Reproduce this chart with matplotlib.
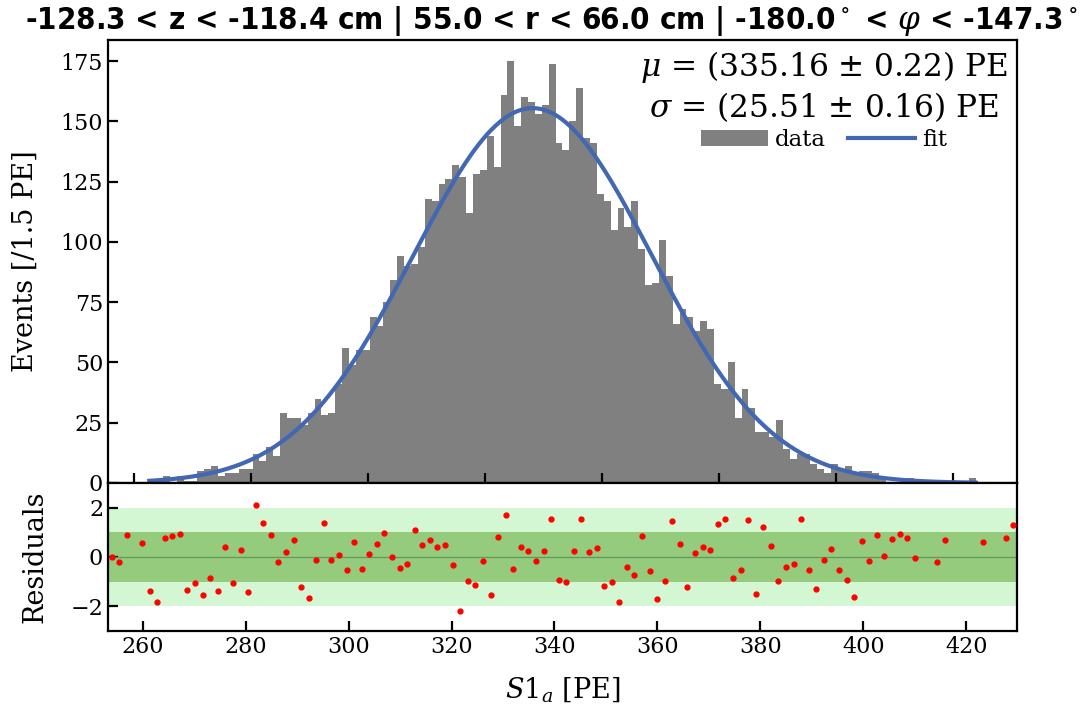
import numpy as np
import matplotlib
matplotlib.use('Agg')
import matplotlib.pyplot as plt

plt.rcParams['font.family'] = 'DejaVu Serif'
plt.rcParams['mathtext.fontset'] = 'dejavuserif'

# S1a spectrum: 120 bins between min and max of the sample
s1_min, s1_max = 253.26, 429.85
counts = [1, 1, 3, 0, 3, 1, 1, 5, 6, 7,
          3, 4, 4, 6, 6, 12, 9, 15, 11, 29,
          27, 27, 24, 29, 35, 28, 29, 41, 56, 49,
          55, 55, 69, 65, 75, 84, 94, 90, 91, 98,
          118, 117, 124, 126, 132, 127, 112, 128, 130, 144,
          131, 161, 175, 148, 160, 158, 153, 157, 174, 141,
          138, 150, 164, 143, 141, 120, 117, 105, 114, 106,
          117, 97, 82, 83, 101, 86, 66, 72, 69, 63,
          67, 64, 41, 39, 50, 27, 39, 31, 21, 21,
          19, 26, 14, 10, 12, 12, 8, 6, 4, 8,
          5, 7, 4, 5, 5, 4, 2, 0, 0, 1,
          2, 0, 0, 0, 0, 1, 0, 0, 1, 2]

nan = np.nan
resid = [0.00, -0.19, 0.91, nan, 0.57, -1.39, -1.82, 0.76, 0.87, 0.94,
         -1.32, -1.06, -1.54, -0.87, -1.37, 0.39, -1.07, 0.29, -1.43, 2.11,
         1.36, 0.88, -0.22, 0.20, 0.67, -1.21, -1.67, -0.11, 1.37, -0.14,
         0.07, -0.54, 0.61, -0.48, 0.12, 0.53, 0.98, 0.01, -0.46, -0.29,
         1.09, 0.50, 0.67, 0.41, 0.49, -0.34, -2.19, -0.98, -1.12, -0.15,
         -1.54, 0.80, 1.70, -0.49, 0.41, 0.23, -0.15, 0.23, 1.54, -0.94,
         -1.02, 0.23, 1.56, 0.20, 0.37, -1.16, -1.03, -1.81, -0.41, -0.71,
         0.84, -0.57, -1.70, -0.98, 1.47, 0.53, -1.22, 0.18, 0.42, 0.30,
         1.35, 1.56, -0.84, -0.53, 1.51, -1.52, 1.20, 0.46, -0.98, -0.41,
         -0.30, 1.56, -0.53, -1.31, -0.12, 0.33, -0.54, -0.94, -1.62, 0.63,
         -0.16, 0.90, 0.03, 0.72, 0.95, 0.78, -0.04, nan, nan, -0.22,
         0.69, nan, nan, nan, nan, 0.60, nan, nan, 0.79, 1.29]

# fit result
mu, mu_err = 335.16, 0.22
sigma, sigma_err = 25.51, 0.16
amp = 155.5

edges = np.linspace(s1_min, s1_max, len(counts) + 1)
centers = 0.5 * (edges[1:] + edges[:-1])

fig = plt.figure(figsize=(10.86, 7.11), dpi=100)
ax = fig.add_axes([0.0994, 0.3207, 0.8371, 0.6230])
axr = fig.add_axes([0.0994, 0.1125, 0.8371, 0.2082])

ax.hist(centers, bins=edges, weights=counts, color='grey', label='data')
xf = np.linspace(s1_min, s1_max, 600)
ax.plot(xf, amp * np.exp(-0.5 * ((xf - mu) / sigma) ** 2),
        color='#4268b4', lw=3, label='fit')

ax.set_xticks(np.arange(250, 426, 25))
ax.set_yticks(np.arange(0, 176, 25))
ax.tick_params(labelbottom=False)
ax.set_ylabel('Events [/1.5 PE]', fontsize=19.5, labelpad=16)

leg_title = ('$\\mu$ = (%.2f $\\pm$ %.2f) PE\n$\\sigma$ = (%.2f $\\pm$ %.2f) PE'
             % (mu, mu_err, sigma, sigma_err))
leg = ax.legend(title=leg_title, ncol=2, frameon=False, loc='upper right',
                fontsize=16.5, title_fontsize=22.5, handlelength=2.9,
                columnspacing=1.0, handletextpad=0.3,
                borderaxespad=0.1, borderpad=0.3, labelspacing=0.2)
leg.get_title().set_multialignment('center')

axr.axhspan(-2, 2, color='#d3f6d3', lw=0, zorder=0)
axr.axhspan(-1, 1, color='#94cb7c', lw=0, zorder=1)
axr.axhline(0, color='#62985a', lw=0.9, zorder=2)
axr.plot(centers, resid, 'o', color='red', ms=3.5, zorder=3)
axr.set_xlim(s1_min, s1_max)
axr.set_ylim(-3, 3)
axr.set_yticks([-2, 0, 2])
axr.set_xticks(np.arange(260, 421, 20))
axr.set_ylabel('Residuals', fontsize=19.5, labelpad=16)
axr.set_xlabel('$S1_a$ [PE]', fontsize=19.5, labelpad=12)

for a in (ax, axr):
    a.tick_params(direction='in', length=7, width=1.6, labelsize=16)
    for sp in a.spines.values():
        sp.set_linewidth(1.6)

fig.suptitle('-128.3 < z < -118.4 cm | 55.0 < r < 66.0 cm | '
             '-180.0$^\\circ$ < $\\varphi$ < -147.3$^\\circ$',
             fontfamily='DejaVu Sans', fontweight='bold',
             fontstretch='condensed', fontsize=22.4, x=0.508, y=0.995)

fig.savefig('out.png', dpi=100)
